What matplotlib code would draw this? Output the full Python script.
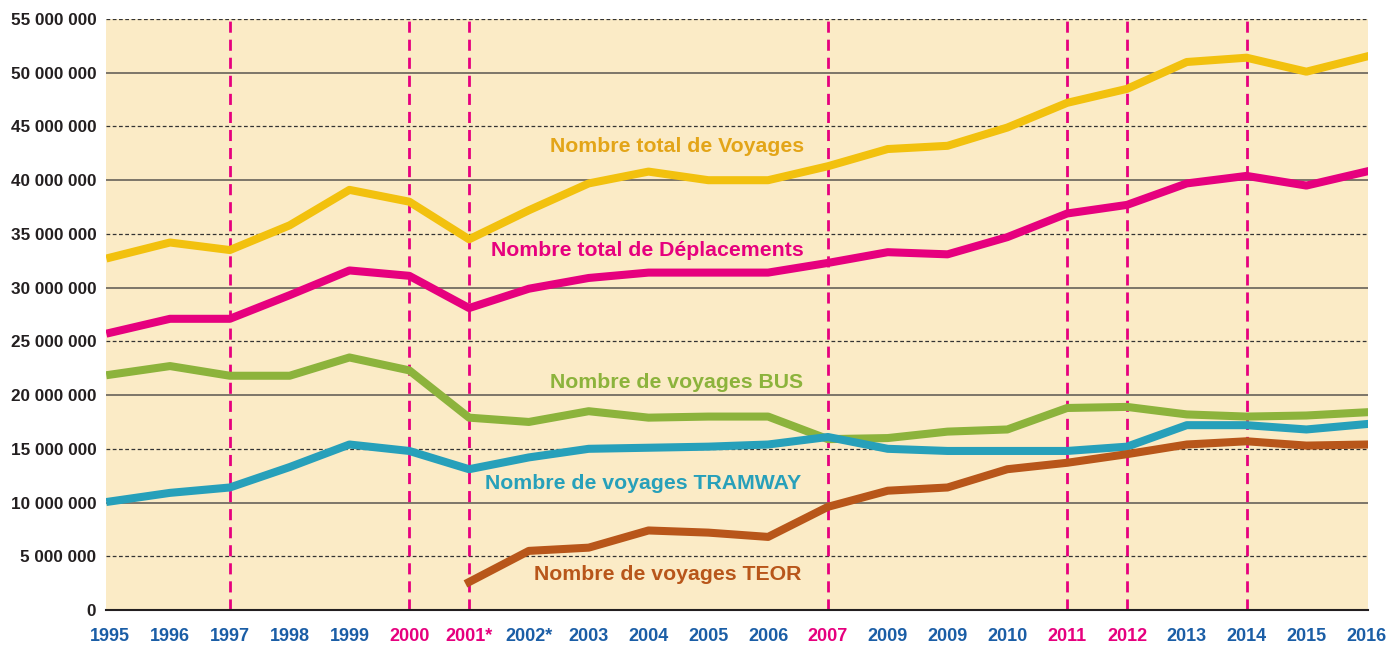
import numpy as np
import matplotlib.pyplot as plt

plt.rcParams['font.family'] = ['Liberation Sans', 'DejaVu Sans']

years = ['1995', '1996', '1997', '1998', '1999', '2000', '2001*', '2002*', '2003', '2004',
         '2005', '2006', '2007', '2009', '2009', '2010', '2011', '2012', '2013', '2014',
         '2015', '2016']
pink_years = ['2000', '2001*', '2007', '2011', '2012']
dashed_idx = [2, 5, 6, 12, 16, 17, 19]

voyages = [32.8, 34.2, 33.5, 35.8, 39.1, 38.0, 34.5, 37.2, 39.7, 40.8, 40.0, 40.0, 41.3,
           42.9, 43.2, 44.9, 47.2, 48.5, 51.0, 51.4, 50.1, 51.5]
deplacements = [25.8, 27.1, 27.1, 29.3, 31.6, 31.1, 28.1, 29.9, 30.9, 31.4, 31.4, 31.4, 32.3,
                33.3, 33.1, 34.7, 36.9, 37.7, 39.7, 40.4, 39.5, 40.8]
bus = [21.9, 22.7, 21.8, 21.8, 23.5, 22.3, 17.9, 17.5, 18.5, 17.9, 18.0, 18.0, 15.9,
       16.0, 16.6, 16.8, 18.8, 18.9, 18.2, 18.0, 18.1, 18.4]
tramway = [10.1, 10.9, 11.4, 13.3, 15.4, 14.8, 13.1, 14.2, 15.0, 15.1, 15.2, 15.4, 16.1,
           15.0, 14.8, 14.8, 14.8, 15.2, 17.2, 17.2, 16.8, 17.3]
teor = [None] * 6 + [2.6, 5.5, 5.8, 7.4, 7.2, 6.8, 9.6, 11.1, 11.4, 13.1, 13.7, 14.5,
                     15.4, 15.7, 15.3, 15.4]

x = np.arange(len(years))

fig = plt.figure(figsize=(13.86, 6.45), dpi=100)
ax = fig.add_axes([0.0765, 0.0543, 0.9105, 0.9162])
ax.set_facecolor('#FBEBC6')

# grid
for v in range(5, 56, 5):
    if v % 10 == 0:
        ax.axhline(v * 1e6, color='#5a5550', lw=1.1, zorder=1)
    else:
        ax.axhline(v * 1e6, color='#333333', lw=0.9, ls=(0, (3, 2)), zorder=1)

for i in dashed_idx:
    ax.axvline(x[i], color='#E6007E', lw=2, ls=(0, (4, 2.5)), zorder=2)

def scale(vals):
    return np.array([np.nan if v is None else v * 1e6 for v in vals])

lw = 5.8
ax.plot(x, scale(voyages), color='#F2C10E', lw=lw, zorder=3)
ax.plot(x, scale(deplacements), color='#E6007E', lw=lw, zorder=3)
ax.plot(x, scale(bus), color='#8CB33C', lw=lw, zorder=3)
ax.plot(x, scale(tramway), color='#27A0BA', lw=lw, zorder=3)
ax.plot(x, scale(teor), color='#B8561A', lw=lw, zorder=3)

lab = dict(fontsize=15.3, fontweight='bold', ha='right', va='center', zorder=4)
ax.text(11.6, 43.1e6, 'Nombre total de Voyages', color='#E3A518', **lab)
ax.text(11.6, 33.5e6, 'Nombre total de Déplacements', color='#E6007E', **lab)
ax.text(11.58, 21.2e6, 'Nombre de voyages BUS', color='#8CB33C', **lab)
ax.text(11.56, 11.8e6, 'Nombre de voyages TRAMWAY', color='#27A0BA', **lab)
ax.text(11.56, 3.26e6, 'Nombre de voyages TEOR', color='#B8561A', **lab)

ax.set_xlim(-0.07, 21.03)
ax.set_ylim(0, 55e6)
ax.set_yticks(np.arange(0, 56e6, 5e6))
ax.set_yticklabels(['0'] + [f'{v:,}'.replace(',', ' ') for v in range(5000000, 55000001, 5000000)],
                   fontsize=12.3, fontweight='bold', color='#231F20')
ax.set_xticks(x)
ax.set_xticklabels(years, fontsize=13, fontweight='bold')
for t in ax.get_xticklabels():
    t.set_color('#E6007E' if t.get_text() in pink_years else '#1B5EA6')
ax.tick_params(length=0)
ax.tick_params(axis='x', pad=13)
ax.tick_params(axis='y', pad=7)

for s in ['top', 'right', 'left']:
    ax.spines[s].set_visible(False)
ax.spines['bottom'].set_color('#231F20')
ax.spines['bottom'].set_linewidth(1.5)

fig.savefig('out.png', dpi=100)
